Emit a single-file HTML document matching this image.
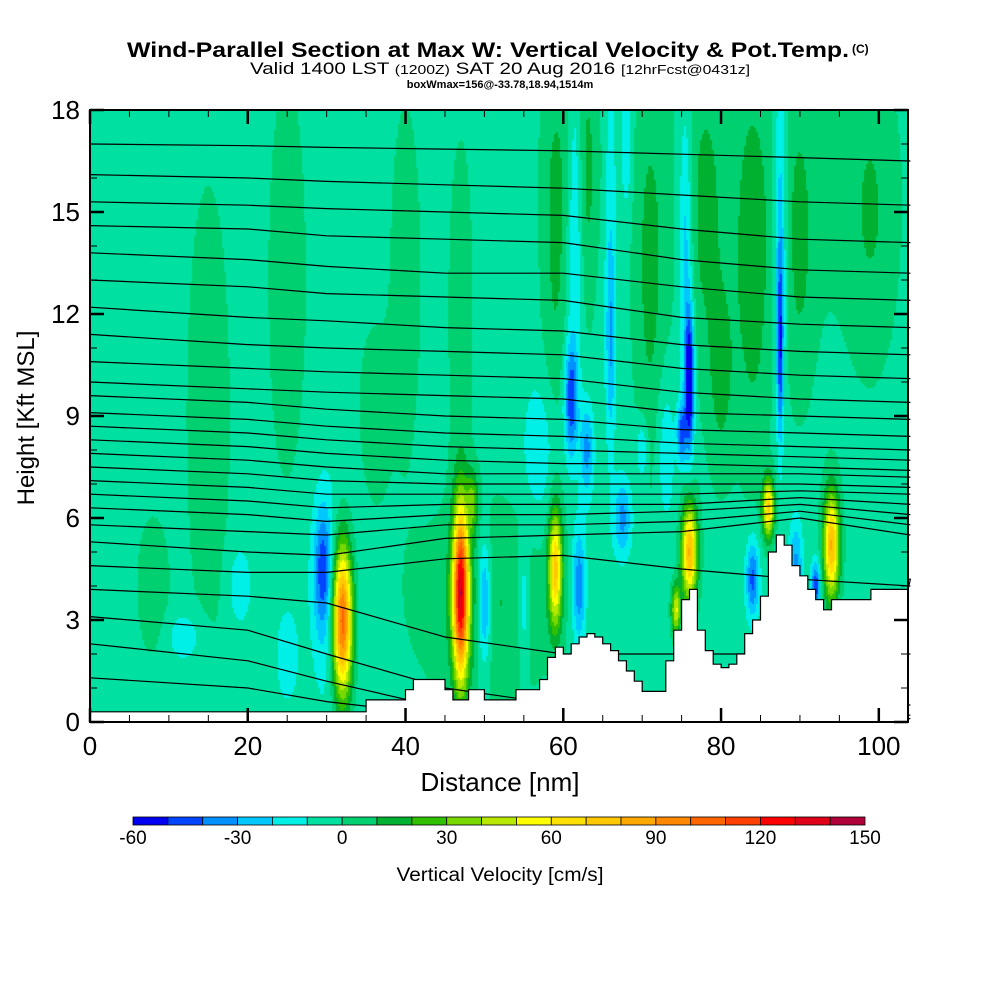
<!DOCTYPE html>
<html><head><meta charset="utf-8"><style>
body{margin:0;background:#fff;}
#wrap{position:relative;width:1000px;height:1000px;font-family:"Liberation Sans",sans-serif;}
canvas,svg{position:absolute;left:0;top:0;}
</style></head><body>
<div id="wrap">
<canvas id="cv" width="1000" height="1000"></canvas>
<svg id="sv" width="1000" height="1000"></svg>
</div>
<script>
// ---- data ----
const binColors=["#0000f0","#0044ff","#0090ff","#00c8ff","#00f0e8","#00e0a0","#00d070","#00b030","#30c000","#78d800","#b8e800","#ffff00","#ffe000","#ffc800","#ffa800","#ff8800","#ff6600","#ff4000","#ff0000","#e00018","#b00038"];
const cbTicks=[-60,-30,0,30,60,90,120,150];
const yTicks=[0,3,6,9,12,15,18];
const xTicks=[0,20,40,60,80,100];
const baseW=-4;
// w features: x(nm), z(kft), sigma x, sigma z, amplitude(cm/s)
const featX=[32,47,59,76,86,94,74.3,48.5,50,29.5,31,50,55,62,67.5,84,89.5,92,61,63,76,75,87.5,66,70,73,59,63,71,78,84,90,99,80,61.5,66,75.5,87.5,68,15,25,40,47,8,36,12,19,25,85,62,57];
const featZ=[3.0,3.8,4.5,5.0,6.3,5.2,3.3,6.5,3.5,4.5,3.5,3.5,3.5,4.0,6,4.2,4.5,4,9.5,8,10,8.5,11,11,8,8,14,16,13,15,13,14,15,10,15,15,14,15,17,9,13,13,12,4,9,2.5,4,2,15.5,16.5,8];
const featSX=[0.9,0.7,0.6,0.7,0.5,0.7,0.4,0.5,6,0.8,2,0.6,0.5,0.6,0.8,0.6,0.6,0.4,0.6,0.6,0.4,0.4,0.3,0.4,0.5,0.8,1.2,0.8,1.3,1.5,1.5,1.2,2,1.2,0.7,0.6,0.6,0.6,0.5,2,2,1.5,1.2,1.5,1.5,1.5,1,1,12,3,1.5];
const featSZ=[1.6,1.8,1.2,1.0,0.6,1.1,0.5,0.6,2,1.3,2.5,1.3,1.2,1.2,0.8,0.8,1,0.5,1.2,1,1.4,0.6,2,2,0.6,1.5,4,3,4,3,4,3,3,2,3,4,3,3,1.5,5,5,4,4,1.5,2,0.5,0.8,1,4,2,1.5];
const featA=[120,130,75,85,75,85,55,30,15,-35,-15,-40,-20,-35,-30,-40,-30,-45,-45,-30,-65,-40,-45,-20,-20,-15,15,12,15,12,15,12,12,15,-20,-15,-25,-25,-18,10,8,9,9,10,9,-15,-15,-15,7,5,-15];
// terrain height (kft) at each nm 0..104
const terrain=[0.3,0.3,0.3,0.3,0.3,0.3,0.3,0.3,0.3,0.3,0.3,0.3,0.3,0.3,0.3,0.3,0.3,0.3,0.3,0.3,0.3,0.3,0.3,0.3,0.3,0.3,0.3,0.3,0.3,0.3,0.3,0.3,0.3,0.3,0.3,
0.65,0.65,0.65,0.65,0.65,0.95,1.25,1.25,1.25,1.25,0.95,0.65,0.65,0.95,0.95,0.65,0.65,0.65,0.65,0.95,0.95,0.95,1.25,1.9,2.2,2.0,2.3,2.5,2.6,2.5,2.3,2.1,1.8,1.5,1.2,0.9,0.9,0.9,1.8,2.7,3.6,3.9,2.7,2.1,1.7,1.6,1.7,2.0,2.6,3.0,3.7,5.0,5.5,5.2,4.6,4.3,3.9,3.6,3.3,3.6,3.6,3.6,3.6,3.6,3.9,3.9,3.9,3.9,3.9,4.2];
// theta contour heights (kft) at knots
const knotX=[0,20,30,45,60,75,90,104];
const thetaLines=[
[17.0,16.95,16.9,16.85,16.8,16.7,16.6,16.5],[16.1,16.0,15.9,15.8,15.7,15.5,15.3,15.2],
[15.3,15.2,15.1,15.0,14.9,14.5,14.2,14.1],[14.6,14.5,14.3,14.2,14.1,13.6,13.3,13.2],
[13.8,13.6,13.4,13.2,13.2,12.8,12.5,12.4],[13.0,12.8,12.6,12.5,12.4,11.9,11.7,11.6],
[12.2,11.9,11.8,11.6,11.5,11.1,10.9,10.8],[11.4,11.1,11.0,10.9,10.8,10.4,10.2,10.1],
[10.6,10.4,10.3,10.2,10.1,9.7,9.5,9.4],[10.0,9.8,9.7,9.6,9.5,9.1,9.0,8.9],
[9.6,9.4,9.2,9.0,8.9,8.6,8.5,8.4],[9.1,8.9,8.7,8.5,8.4,8.2,8.1,8.0],
[8.7,8.5,8.3,8.1,8.0,7.9,7.8,7.7],[8.3,8.1,7.9,7.7,7.6,7.6,7.5,7.4],
[7.9,7.7,7.5,7.3,7.3,7.3,7.3,7.2],[7.5,7.3,7.1,7.0,7.0,7.0,7.0,6.9],
[7.1,6.9,6.7,6.7,6.7,6.7,6.8,6.7],[6.7,6.5,6.3,6.4,6.4,6.4,6.6,6.4],
[6.3,6.1,5.9,6.1,6.1,6.2,6.4,6.1],[5.8,5.6,5.5,5.8,5.8,5.9,6.2,5.8],
[5.3,5.0,4.9,5.4,5.5,5.6,6.0,5.5],[4.6,4.4,4.4,4.8,4.9,4.5,4.2,4.0],
[3.9,3.7,3.5,2.5,2.0,2.0,2.0,2.0],[3.1,2.7,2.0,1.0,0.5,0.5,0.5,0.5],
[2.3,1.8,1.2,0.4,0.2,0.2,0.2,0.2],[1.3,1.0,0.6,0.2,0.1,0.1,0.1,0.1]];
// ---- axes ----
const PL=90,PR=908,PT=110,PB=722,XMAX=103.7,ZMAX=18;
const xs=v=>PL+v/XMAX*(PR-PL);
const ys=v=>PB-v/ZMAX*(PB-PT);
const NS="http://www.w3.org/2000/svg";
const sv=document.getElementById('sv');
function mk(t,a,p){const e=document.createElementNS(NS,t);for(const k in a)e.setAttribute(k,a[k]);(p||sv).appendChild(e);return e;}
// ---- field ----
const ctx=document.getElementById('cv').getContext('2d');
const step=2;
for(let px=PL;px<PR;px+=step){for(let py=PT;py<PB;py+=step){
 const x=(px+1-PL)/(PR-PL)*XMAX, z=(PB-py-1)/(PB-PT)*ZMAX;
 let w=baseW;
 for(let i=0;i<featX.length;i++){const dx=(x-featX[i])/featSX[i],dz=(z-featZ[i])/featSZ[i];const d=dx*dx+dz*dz;if(d<20)w+=featA[i]*Math.exp(-0.5*d);}
 let b=Math.floor((w+60)/10);b=Math.max(0,Math.min(20,b));
 ctx.fillStyle=binColors[b];ctx.fillRect(px,py,step,step);
}}
// contours
for(let i=0;i<thetaLines.length;i++){
 let d='';
 for(let k=0;k<knotX.length;k++){d+=(k?'L':'M')+xs(knotX[k]).toFixed(1)+','+ys(thetaLines[i][k]).toFixed(1);}
 const p=mk('path',{d:d,fill:'none',stroke:'#000','stroke-width':1.2});
 
 
}
// terrain
let td='M'+xs(0)+','+PB;
for(let i=0;i<terrain.length;i++){const x0=xs(i),x1=xs(Math.min(i+1,XMAX));td+='L'+x0.toFixed(1)+','+ys(terrain[i]).toFixed(1)+'L'+x1.toFixed(1)+','+ys(terrain[i]).toFixed(1);}
td+='L'+PR+','+PB+'Z';
const tp=mk('path',{d:td,fill:'#fff',stroke:'#000','stroke-width':1.2});


// frame
const fr=mk('rect',{x:PL,y:PT,width:PR-PL,height:PB-PT,fill:'none',stroke:'#000','stroke-width':2});


for(let v=0;v<=18;v++){const y=ys(v),L=v%3===0?14:7;mk('line',{x1:PL,x2:PL+L,y1:y,y2:y,stroke:'#000','stroke-width':v%3===0?2.5:1});mk('line',{x1:PR,x2:PR-L,y1:y,y2:y,stroke:'#000','stroke-width':v%3===0?2.5:1});}
for(let v=0;v<=100;v+=5){const x=xs(v),L=v%20===0?14:7;mk('line',{x1:x,x2:x,y1:PB,y2:PB-L,stroke:'#000','stroke-width':v%20===0?2.5:1});mk('line',{x1:x,x2:x,y1:PT,y2:PT+L,stroke:'#000','stroke-width':v%20===0?2.5:1});}
yTicks.forEach(v=>{const t=mk('text',{x:80,y:ys(v)+9,'text-anchor':'end','font-size':26});t.textContent=v;
 });
xTicks.forEach(v=>{const t=mk('text',{x:xs(v),y:755,'text-anchor':'middle','font-size':26});t.textContent=v;
 });
let t=mk('text',{x:500,y:791,'text-anchor':'middle','font-size':26});t.textContent='Distance [nm]';

t=mk('text',{x:0,y:0,'text-anchor':'middle','font-size':24,transform:'translate(34,418) rotate(-90)'});t.textContent='Height [Kft MSL]';

// colorbar
const CB0=133,CB1=865,bw=(CB1-CB0)/binColors.length;
binColors.forEach((c,i)=>{const r=mk('rect',{x:CB0+i*bw,y:817,width:bw,height:8,fill:c,stroke:'#000','stroke-width':0.8});
 });
cbTicks.forEach(v=>{const tt=mk('text',{x:CB0+(v+60)/210*(CB1-CB0),y:844,'text-anchor':'middle','font-size':19});tt.textContent=v;
 });
t=mk('text',{x:500,y:881,'text-anchor':'middle','font-size':19,textLength:207,lengthAdjust:'spacingAndGlyphs'});t.textContent='Vertical Velocity [cm/s]';

// titles
t=mk('text',{x:127,y:57,'font-size':21,'font-weight':'bold',textLength:722,lengthAdjust:'spacingAndGlyphs'});t.textContent='Wind-Parallel Section at Max W: Vertical Velocity & Pot.Temp.';

t=mk('text',{x:852,y:53,'font-size':12,'font-weight':'bold'});t.textContent='(C)';

t=mk('text',{x:250,y:74,'font-size':17,textLength:500,lengthAdjust:'spacingAndGlyphs'});t.innerHTML='Valid 1400 LST <tspan font-size="13">(1200Z)</tspan> SAT 20 Aug 2016 <tspan font-size="13">[12hrFcst@0431z]</tspan>';

t=mk('text',{x:500,y:88,'text-anchor':'middle','font-size':11,'font-weight':'bold'});t.textContent='boxWmax=156@-33.78,18.94,1514m';

</script>
</body></html>
